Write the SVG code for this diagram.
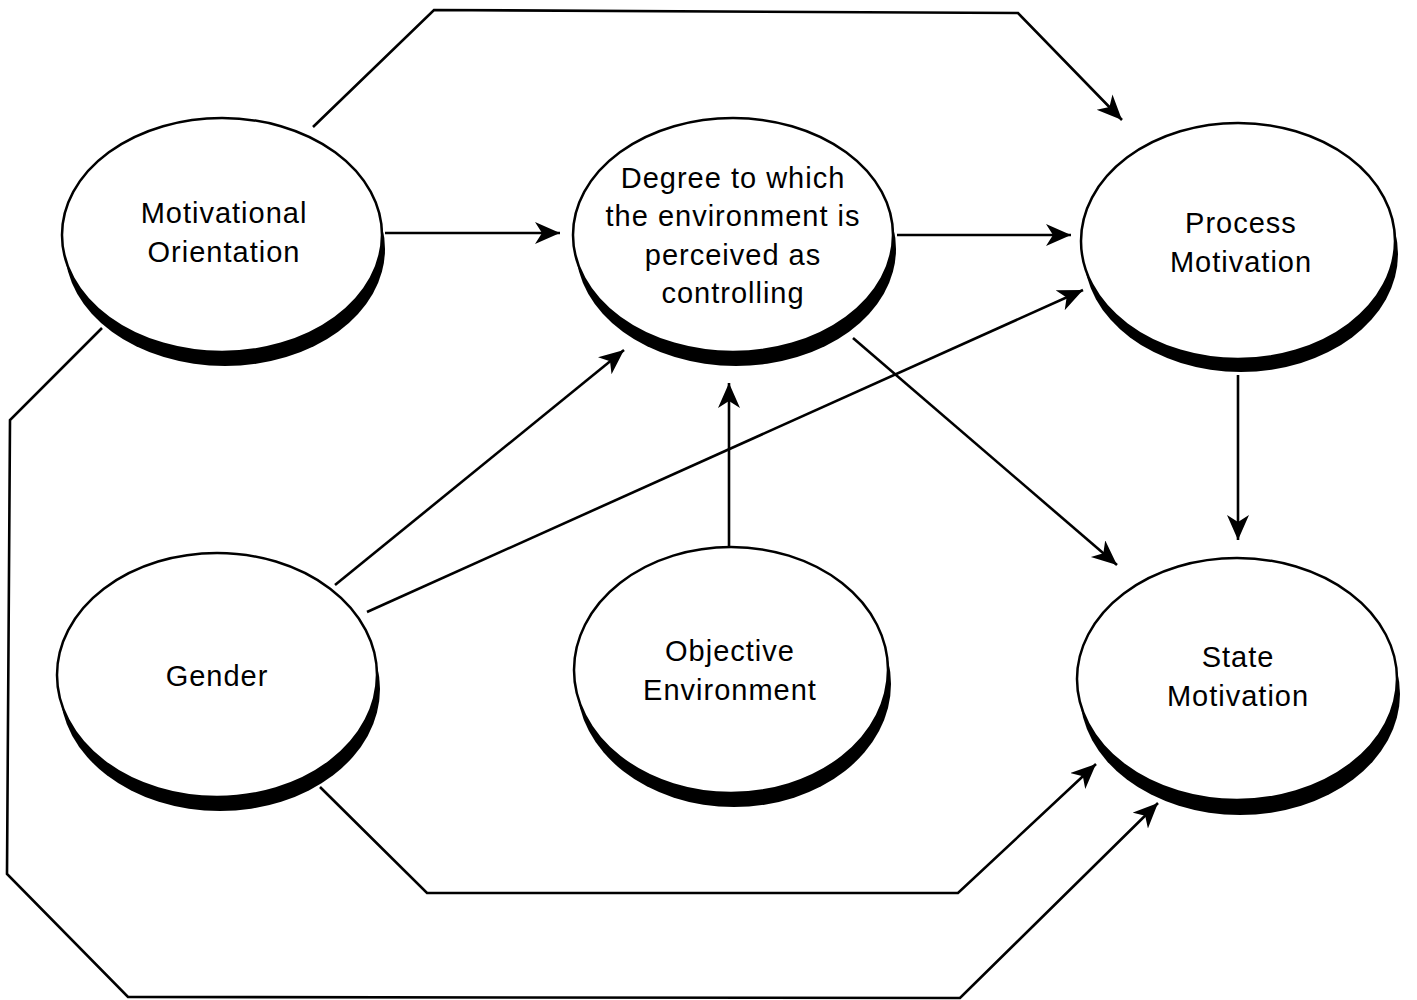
<svg xmlns="http://www.w3.org/2000/svg" width="1417" height="1000" viewBox="0 0 1417 1000">
<style>
.sh{fill:#000;stroke:none}
.el{fill:#fff;stroke:#000;stroke-width:2.5}
.t{font-family:"Liberation Sans",Arial,Helvetica,sans-serif;font-size:29px;letter-spacing:1px;fill:#000;text-anchor:middle}
.c{fill:none;stroke:#000;stroke-width:2.6;stroke-linejoin:miter}
</style>
<defs>
<marker id="ah" markerUnits="userSpaceOnUse" markerWidth="28" markerHeight="24" refX="25" refY="11" orient="auto">
<path d="M0,0 L25,11 L0,22 L7,11 z" fill="#000"/>
</marker>
</defs>
<rect width="1417" height="1000" fill="#fff"/>
<g id="connectors">
<polyline class="c" points="313,127 434,10 1018,13 1122,120" marker-end="url(#ah)"/>
<line class="c" x1="385" y1="233" x2="560" y2="233" marker-end="url(#ah)"/>
<line class="c" x1="897" y1="235" x2="1071" y2="235" marker-end="url(#ah)"/>
<line class="c" x1="335" y1="585" x2="624" y2="350" marker-end="url(#ah)"/>
<line class="c" x1="367" y1="612" x2="1083" y2="290" marker-end="url(#ah)"/>
<line class="c" x1="729" y1="548" x2="729" y2="383" marker-end="url(#ah)"/>
<line class="c" x1="853" y1="338" x2="1117" y2="565" marker-end="url(#ah)"/>
<line class="c" x1="1238" y1="375" x2="1238" y2="540" marker-end="url(#ah)"/>
<polyline class="c" points="320,787 427,893 958,893 1096,764" marker-end="url(#ah)"/>
<polyline class="c" points="102,328 10,420 7,874 128,997 960,998 1158,803" marker-end="url(#ah)"/>
</g>
<g id="node-motivational-orientation">
<ellipse class="sh" cx="225" cy="249" rx="160" ry="117"/>
<ellipse class="el" cx="222" cy="235" rx="160" ry="117"/>
<text class="t" x="224" y="223">Motivational</text>
<text class="t" x="224" y="262">Orientation</text>
</g>
<g id="node-degree">
<ellipse class="sh" cx="736" cy="249" rx="160" ry="117"/>
<ellipse class="el" cx="733" cy="235" rx="160" ry="117"/>
<text class="t" x="733" y="188">Degree to which</text>
<text class="t" x="733" y="226">the environment is</text>
<text class="t" x="733" y="265">perceived as</text>
<text class="t" x="733" y="303">controlling</text>
</g>
<g id="node-process-motivation">
<ellipse class="sh" cx="1241" cy="254" rx="157" ry="118"/>
<ellipse class="el" cx="1238" cy="241" rx="157" ry="118"/>
<text class="t" x="1241" y="233">Process</text>
<text class="t" x="1241" y="272">Motivation</text>
</g>
<g id="node-gender">
<ellipse class="sh" cx="220" cy="689" rx="160" ry="122"/>
<ellipse class="el" cx="217" cy="675" rx="160" ry="122"/>
<text class="t" x="217" y="686">Gender</text>
</g>
<g id="node-objective-environment">
<ellipse class="sh" cx="734" cy="684" rx="157" ry="123"/>
<ellipse class="el" cx="731" cy="670" rx="157" ry="123"/>
<text class="t" x="730" y="661">Objective</text>
<text class="t" x="730" y="700">Environment</text>
</g>
<g id="node-state-motivation">
<ellipse class="sh" cx="1240" cy="694" rx="160" ry="121"/>
<ellipse class="el" cx="1237" cy="679" rx="160" ry="121"/>
<text class="t" x="1238" y="667">State</text>
<text class="t" x="1238" y="706">Motivation</text>
</g>
</svg>
